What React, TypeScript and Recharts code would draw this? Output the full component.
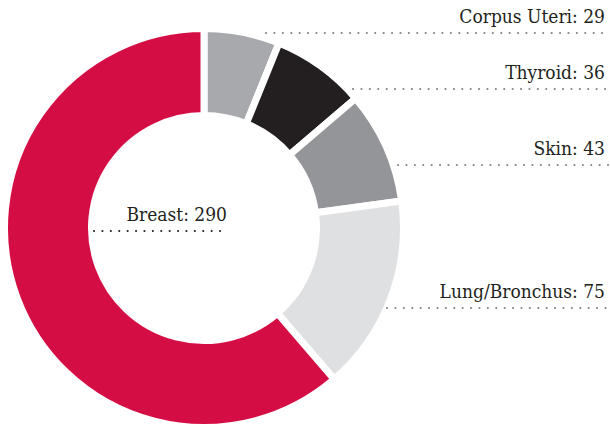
import React from 'react';
import { PieChart, Pie, Cell } from 'recharts';

// cancer sites, counts
const sites = ['Corpus Uteri', 'Thyroid', 'Skin', 'Lung/Bronchus', 'Breast'];
const counts = [29, 36, 43, 75, 290];
const sliceColors = ['#a7a9ac', '#231f20', '#939598', '#dfe0e2', '#d50d45'];

// label layout, relative to the pie centre
const lineDy = [-195, -139, -63, 80, 3];
const lineX0 = [62, 149, 194, 183, -110];

const W = 610;
const H = 426;
const CX = 204;
const CY = 228;
const FONT = "'DejaVu Serif Condensed', 'DejaVu Serif', serif";

const data = sites.map((name, i) => ({ name, value: counts[i] }));

const renderLabel = (props: any) => {
  const { index, name, value } = props;
  const y = CY + lineDy[index];
  const x0 = CX + lineX0[index];
  const isInner = index === sites.length - 1;
  const x1 = isInner ? CX + 24 : W;
  const tx = isInner ? CX + 23 : W - 5;
  return (
    <g key={`lbl-${index}`}>
      <line
        x1={x0}
        y1={y}
        x2={x1}
        y2={y}
        stroke={isInner ? '#231f20' : '#808285'}
        strokeWidth={2}
        strokeDasharray="0.1 8.3"
        strokeLinecap="round"
      />
      <text
        x={tx}
        y={y - 10}
        textAnchor="end"
        fill="#231f20"
        style={{ fontFamily: FONT, fontSize: 19, fontStretch: 'condensed' }}
      >
        {`${name}: ${value}`}
      </text>
    </g>
  );
};

export default function App() {
  return (
    <div style={{ position: 'absolute', left: 0, top: 0, background: '#fff', fontFamily: FONT }}>
      <PieChart width={W} height={H} margin={{ top: 0, right: 0, bottom: 0, left: 0 }}>
        <Pie
          data={data}
          dataKey="value"
          nameKey="name"
          cx={CX}
          cy={CY}
          innerRadius={112.5}
          outerRadius={199.5}
          startAngle={90}
          endAngle={-270}
          stroke="#ffffff"
          strokeWidth={7}
          label={renderLabel}
          labelLine={false}
          isAnimationActive={false}
        >
          {data.map((d, i) => (
            <Cell key={d.name} fill={sliceColors[i]} stroke="#ffffff" strokeWidth={7} />
          ))}
        </Pie>
      </PieChart>
    </div>
  );
}
